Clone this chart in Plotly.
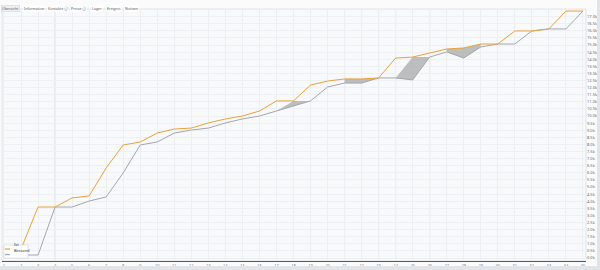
import plotly.graph_objects as go

# ---------------- data ----------------
categories = [str(i) for i in range(1, 36)]
ist = [0.63, 0.63, 3.59, 3.59, 4.23, 4.37, 6.34, 7.96, 8.17, 8.80, 9.08, 9.15, 9.51, 9.79, 10.00,
       10.35, 11.06, 11.06, 12.18, 12.46, 12.61, 12.61, 12.68, 14.08, 14.15, 14.44, 14.72, 14.79,
       15.07, 15.07, 15.99, 15.99, 16.13, 17.39, 17.39]
bestand = [0.21, 0.21, 0.21, 3.59, 3.59, 4.01, 4.30, 5.99, 7.96, 8.17, 8.80, 9.01, 9.15, 9.51, 9.79,
           10.00, 10.35, 10.70, 11.06, 12.04, 12.32, 12.32, 12.68, 12.68, 12.54, 14.15, 14.51, 14.08,
           14.86, 15.07, 15.07, 15.99, 16.13, 16.13, 17.39]
# shaded bands: (category indices, upper values) filled down to the "bestand" series
band_segments = [
    ([16, 17, 18], [10.35, 11.06, 11.06]),
    ([20, 21, 22], [12.61, 12.61, 12.68]),
    ([23, 24, 25], [12.68, 14.15, 14.15]),
    ([26, 27, 28], [14.72, 14.79, 15.07]),
]
marked_categories = [2, 16, 18, 19, 20, 21, 22, 24]
y_ticks = [i * 0.5 for i in range(35)]
y_labels = [f"{v:.1f}k" for v in y_ticks]
toolbar_labels = ["Übersicht", "Information", "Kontakte ⓘ", "Preise ⓘ", "Lager", "Ereignis", "Notizen"]
toolbar_x = [1, 23, 47, 70, 91, 106, 124]
legend_names = ["Ist", "Bestand"]

ORANGE = "#e9a23b"
GREY = "#a3a7ad"

fig = go.Figure()

for idx, upper in band_segments:
    xs = [categories[i] for i in idx]
    fig.add_trace(go.Scatter(x=xs, y=[bestand[i] for i in idx], mode="lines",
                             line=dict(width=0, color=GREY), showlegend=False, hoverinfo="skip"))
    fig.add_trace(go.Scatter(x=xs, y=upper, mode="lines", fill="tonexty",
                             fillcolor="rgba(170,170,170,0.75)", line=dict(width=0),
                             showlegend=False, hoverinfo="skip"))

fig.add_trace(go.Scatter(x=categories, y=bestand, mode="lines", name=legend_names[1],
                         line=dict(color=GREY, width=1)))
fig.add_trace(go.Scatter(x=categories, y=ist, mode="lines", name=legend_names[0],
                         line=dict(color=ORANGE, width=1)))

W, H = 600, 270
L, R, T, B = 2, 14, 9, 9
pw, ph = W - L - R, H - T - B

def px_x(p):
    return (p - L) / pw

def px_y(p):
    return 1 - (p - T) / ph

shapes = []
for c in marked_categories:
    shapes.append(dict(type="line", xref="x", yref="paper", x0=categories[c], x1=categories[c],
                       y0=0, y1=1, line=dict(color="#d9dce1", width=1), layer="below"))
# plot frame
shapes.append(dict(type="rect", xref="paper", yref="paper", x0=0, x1=1, y0=0, y1=1,
                   line=dict(color="#dfe2e6", width=1), layer="below"))
# bottom and right grey strips of the page frame
shapes.append(dict(type="rect", xref="paper", yref="paper", x0=px_x(0), x1=px_x(600),
                   y0=px_y(270), y1=px_y(266), line=dict(width=0), fillcolor="#e1e4e8"))
shapes.append(dict(type="rect", xref="paper", yref="paper", x0=px_x(597), x1=px_x(600),
                   y0=px_y(270), y1=px_y(0), line=dict(width=0), fillcolor="#e1e4e8"))
# legend box + line samples
shapes.append(dict(type="rect", xref="paper", yref="paper", x0=px_x(4), x1=px_x(28),
                   y0=px_y(258), y1=px_y(245), line=dict(color="#d0d3d8", width=0.6),
                   fillcolor="rgba(255,255,255,0.9)"))
shapes.append(dict(type="line", xref="paper", yref="paper", x0=px_x(5), x1=px_x(10),
                   y0=px_y(249), y1=px_y(249), line=dict(color=ORANGE, width=1.2)))
shapes.append(dict(type="line", xref="paper", yref="paper", x0=px_x(5), x1=px_x(10),
                   y0=px_y(254.5), y1=px_y(254.5), line=dict(color=GREY, width=1.2)))

annotations = []
for i, (lab, lx) in enumerate(zip(toolbar_labels, toolbar_x)):
    annotations.append(dict(text=lab, xref="paper", yref="paper", x=px_x(lx), y=px_y(4.5),
                            xanchor="left", showarrow=False,
                            font=dict(size=3.6, color="#555", family="Noto Sans"),
                            bgcolor="#ffffff" if i else "#eef0f3",
                            bordercolor="#cfd3d8" if i == 0 else "rgba(0,0,0,0)",
                            borderwidth=0.5, borderpad=0.5))
for name, py in zip(legend_names, [249, 254.5]):
    annotations.append(dict(text=name, xref="paper", yref="paper", x=px_x(11.5), y=px_y(py),
                            xanchor="left", showarrow=False,
                            font=dict(size=4, color="#333", family="Noto Sans")))

fig.update_layout(
    width=W, height=H,
    margin=dict(l=L, r=R, t=T, b=B),
    paper_bgcolor="#fbfbfc",
    plot_bgcolor="#f8f9fb",
    showlegend=False,
    shapes=shapes,
    annotations=annotations,
    xaxis=dict(type="category", categoryorder="array", categoryarray=categories,
               range=[-0.117, 34.18], showgrid=True, gridcolor="#eceef1",
               gridwidth=1, tickfont=dict(size=4, color="#7a8694", family="Noto Sans"),
               ticks="", showline=True, linecolor="#555b63", linewidth=1, zeroline=False,
               ticklabelstandoff=0),
    yaxis=dict(side="right", range=[-0.211, 17.535], tickvals=y_ticks, ticktext=y_labels,
               showgrid=True, gridcolor="#eef0f3", gridwidth=1,
               tickfont=dict(size=4, color="#666", family="Noto Sans"),
               ticks="", zeroline=False, showline=False),
)

fig.write_html("out.html")
